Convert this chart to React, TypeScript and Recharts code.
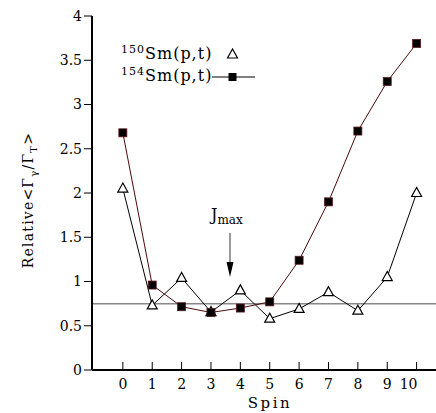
import React from 'react';
import { LineChart, Line, XAxis, YAxis, ReferenceLine, Customized } from 'recharts';

const spins = [0, 1, 2, 3, 4, 5, 6, 7, 8, 9, 10];
const sm150 = [2.05, 0.73, 1.04, 0.655, 0.9, 0.58, 0.69, 0.88, 0.67, 1.05, 2.0];
const sm154 = [2.68, 0.96, 0.715, 0.65, 0.7, 0.77, 1.24, 1.9, 2.7, 3.26, 3.69];
const xTicks = [0, 1, 2, 3, 4, 5, 6, 7, 8, 9, 10];
const yTicks = [0, 0.5, 1, 1.5, 2, 2.5, 3, 3.5, 4];
const refLevel = 0.75;

const data = spins.map((s, i) => ({ spin: s, a: sm150[i], b: sm154[i] }));

const FONT = '"DejaVu Serif", serif';

const Triangle = (props: any) => {
  const { cx, cy } = props;
  if (cx == null || cy == null) return null;
  return (
    <polygon
      points={`${cx},${cy - 5.5} ${cx - 5},${cy + 3.5} ${cx + 5},${cy + 3.5}`}
      fill="#fff"
      stroke="#000"
      strokeWidth={1.2}
    />
  );
};

const Square = (props: any) => {
  const { cx, cy } = props;
  if (cx == null || cy == null) return null;
  return <rect x={cx - 4} y={cy - 4} width={8} height={8} fill="#000" stroke="#5a1a1a" strokeWidth={0.8} />;
};

const BottomTick = (props: any) => {
  const { x, y, payload } = props;
  const dx = payload.value === 10 ? -8 : 0;
  return (
    <g>
      <line x1={x} x2={x} y1={y} y2={y - 8} stroke="#000" strokeWidth={1} />
      <text x={x + dx} y={y + 19} textAnchor="middle" fontFamily={FONT} fontSize={14} fill="#000">
        {payload.value}
      </text>
    </g>
  );
};

const TopTick = (props: any) => {
  const { x, y } = props;
  return <line x1={x} x2={x} y1={y} y2={y + 8} stroke="#000" strokeWidth={1} />;
};

const Annotations = () => (
  <g fontFamily={FONT} fill="#000">
    {/* legend */}
    <text x={121} y={59} fontSize={16} letterSpacing={1}>
      <tspan fontSize={11} dy={-6}>150</tspan>
      <tspan dy={6}>Sm(p,t)</tspan>
    </text>
    <polygon points="232.5,49 227.5,58 237.5,58" fill="#fff" stroke="#000" strokeWidth={1.2} />
    <text x={121} y={81} fontSize={16} letterSpacing={1}>
      <tspan fontSize={11} dy={-6}>154</tspan>
      <tspan dy={6}>Sm(p,t)</tspan>
    </text>
    <line x1={212} x2={255} y1={77} y2={77} stroke="#000" strokeWidth={1} />
    <rect x={228.5} y={73} width={8} height={8} fill="#000" />
    {/* J max */}
    <text x={211} y={220} fontSize={16}>
      J<tspan fontSize={12} dy={4}>max</tspan>
    </text>
    <line x1={230} x2={230} y1={233} y2={264} stroke="#777" strokeWidth={1.5} />
    <polygon points="226.5,262 233.5,262 230,277" fill="#000" />
    {/* y label */}
    <text
      transform="translate(33,200) rotate(-90)"
      textAnchor="middle"
      fontSize={14}
      letterSpacing={1.2}
    >
      Relative&lt;Γ<tspan fontSize={10} dy={4}>γ</tspan>
      <tspan dy={-4}>/Γ</tspan>
      <tspan fontSize={10} dy={4}>T</tspan>
      <tspan dy={-4}>&gt;</tspan>
    </text>
    {/* x label */}
    <text x={270} y={408} textAnchor="middle" fontSize={15} letterSpacing={2.5}>
      Spin
    </text>
  </g>
);

export default function App() {
  return (
    <div style={{ position: 'absolute', left: 0, top: 0, background: '#fff' }}>
      <LineChart width={436} height={413} data={data} margin={{ top: 16, right: 0, bottom: 0, left: 0 }}>
        <XAxis
          dataKey="spin"
          type="number"
          domain={[-1.05, 10.66]}
          allowDataOverflow
          ticks={xTicks}
          height={43}
          tickSize={0}
          tickMargin={0}
          tickLine={false}
          tick={<BottomTick />}
          axisLine={{ stroke: '#000', strokeWidth: 2 }}
          interval={0}
        />
        <XAxis
          xAxisId="top"
          orientation="top"
          dataKey="spin"
          type="number"
          domain={[-1.05, 10.66]}
          allowDataOverflow
          ticks={xTicks}
          height={0}
          tickSize={0}
          tickMargin={0}
          tickLine={false}
          tick={<TopTick />}
          axisLine={{ stroke: '#000', strokeWidth: 2 }}
          interval={0}
        />
        <YAxis
          type="number"
          domain={[0, 4]}
          ticks={yTicks}
          width={92}
          tickSize={8}
          tickMargin={2}
          interval={0}
          tickLine={{ stroke: '#000', strokeWidth: 1 }}
          axisLine={{ stroke: '#000', strokeWidth: 2 }}
          tick={{ fill: '#000', fontFamily: FONT, fontSize: 14 }}
          tickFormatter={(v: number) => String(v)}
        />
        <ReferenceLine y={refLevel} stroke="#888" strokeWidth={1.5} />
        <Line
          dataKey="a"
          stroke="#000"
          strokeWidth={1}
          dot={<Triangle />}
          isAnimationActive={false}
        />
        <Line
          dataKey="b"
          stroke="#4a0a0a"
          strokeWidth={1}
          dot={<Square />}
          isAnimationActive={false}
        />
        <Customized component={<Annotations />} />
      </LineChart>
    </div>
  );
}
